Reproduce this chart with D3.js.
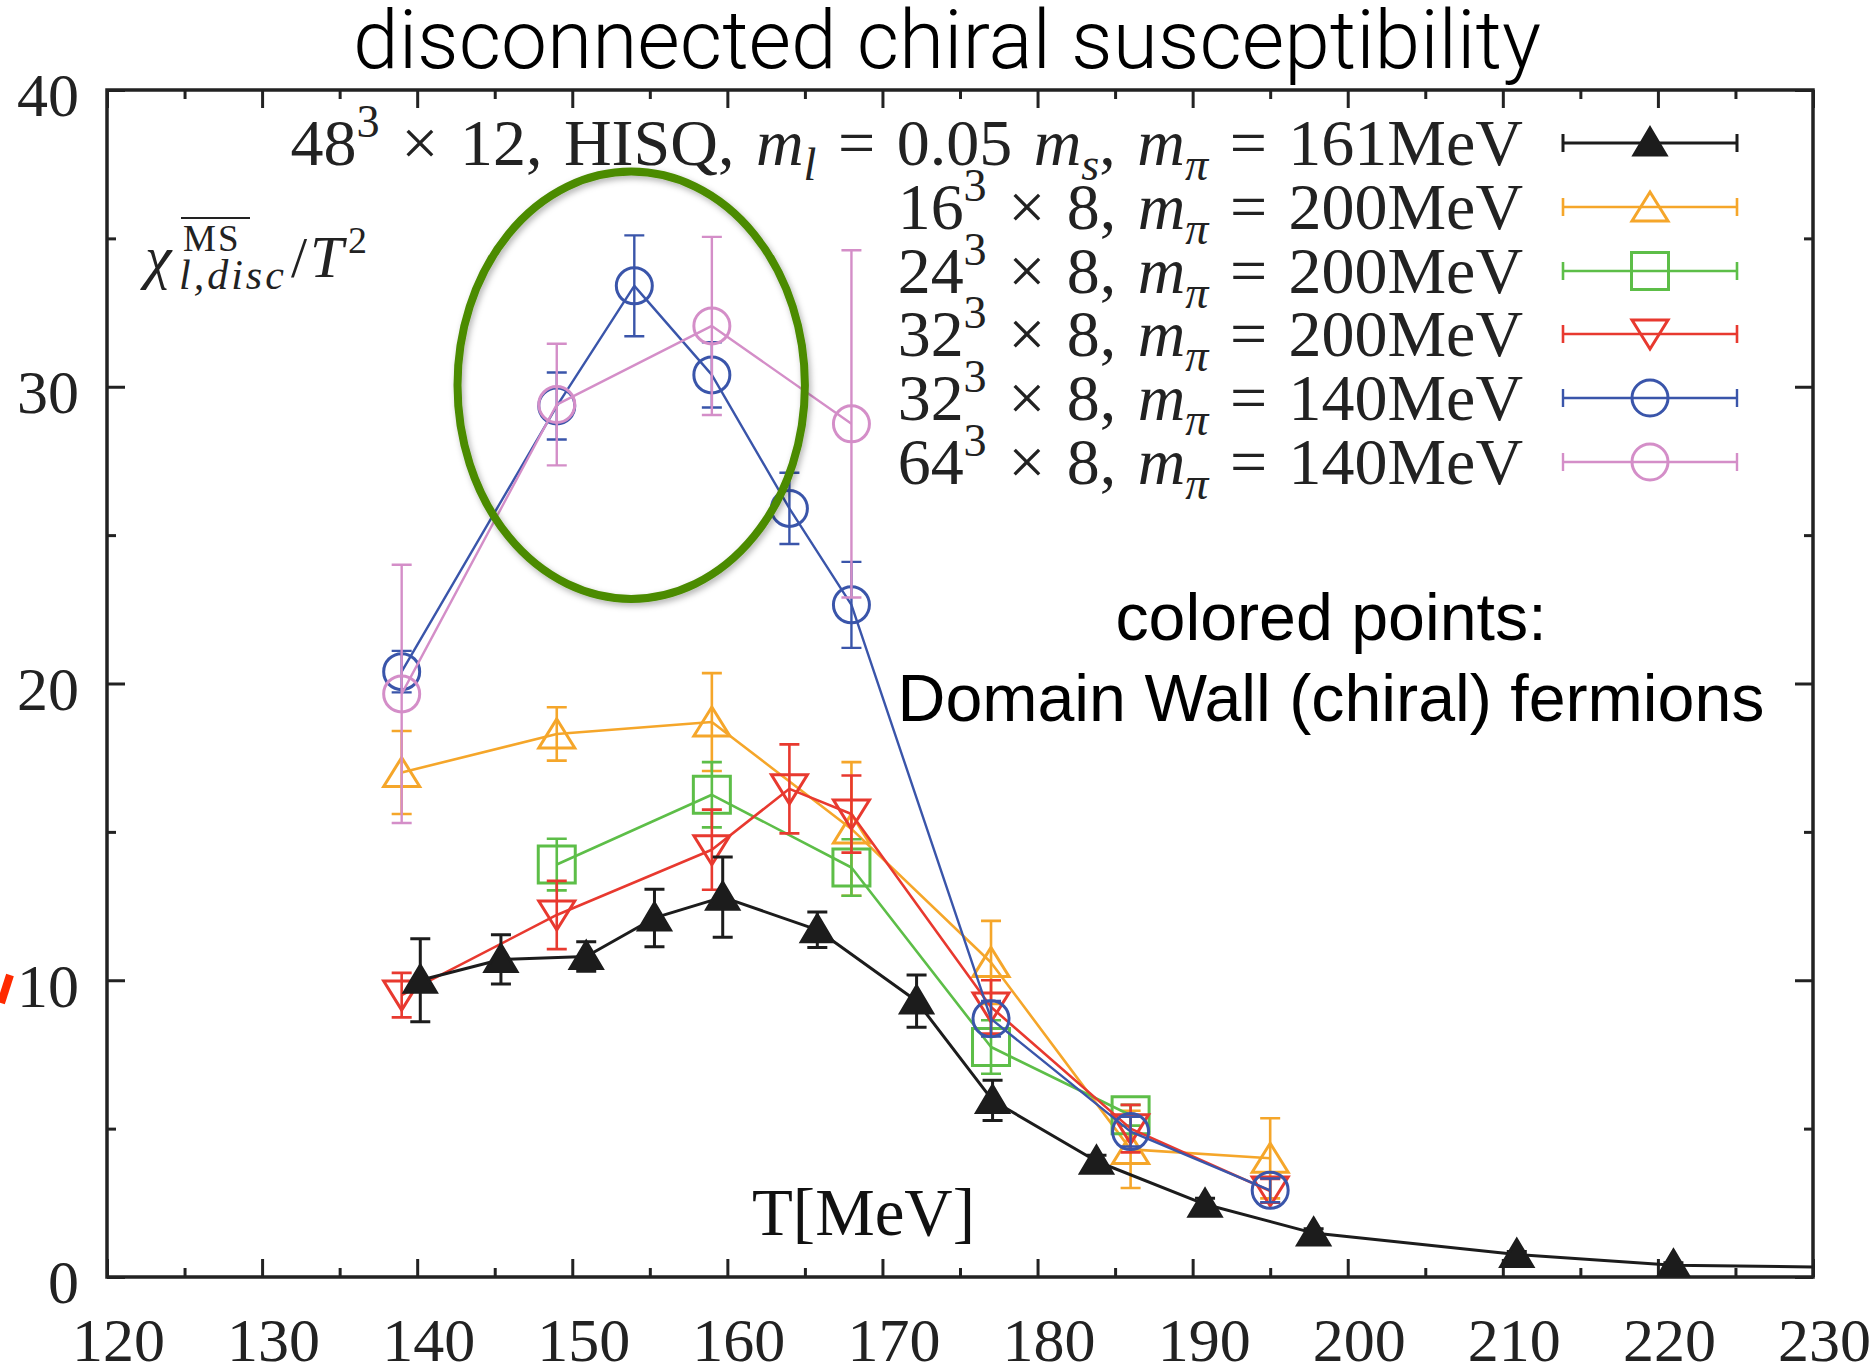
<!DOCTYPE html>
<html>
<head>
<meta charset="utf-8">
<script src="https://cdn.jsdelivr.net/npm/d3@7"></script>
<style>
  body { margin: 0; background: #fff; }
  svg { display: block; }
</style>
</head>
<body>
<svg id="plotarea"></svg>
<script>
// --- data ---
var xTicks = [120, 130, 140, 150, 160, 170, 180, 190, 200, 210, 220, 230];
var yTicks = [0, 10, 20, 30, 40];

// 48^3 x 12 HISQ (last point lies beyond 230 and is clipped)
var hisqT = [140.2, 145.4, 150.9, 155.3, 159.7, 165.8, 172.2, 177.1, 183.8, 190.8, 197.8, 210.9, 221.0, 235.0];
var hisqV = [10.0, 10.7, 10.8, 12.1, 12.8, 11.7, 9.3, 5.95, 3.9, 2.45, 1.48, 0.76, 0.4, 0.3];
var hisqE = [1.4, 0.83, 0.5, 0.97, 1.35, 0.6, 0.88, 0.68, 0.2, 0.2, 0.15, 0.1, 0.08, 0.05];

var dw16T = [139, 149, 159, 168, 177, 186, 195];
var dw16V = [17.0, 18.3, 18.7, 15.1, 10.6, 4.3, 4.0];
var dw16E = [1.4, 0.9, 1.65, 2.25, 1.4, 1.3, 1.35];

var dw24T = [149, 159, 168, 177, 186];
var dw24V = [13.9, 16.25, 13.8, 7.75, 5.45];
var dw24E = [0.87, 1.1, 0.95, 0.9, 0.35];

var dw32T = [139, 149, 159, 164, 168, 177, 186, 195];
var dw32V = [9.5, 12.2, 14.4, 16.45, 15.6, 9.1, 5.0, 2.9];
var dw32E = [0.75, 1.15, 1.35, 1.5, 1.3, 0.9, 0.8, 0.4];

var dw32lT = [139, 149, 154, 159, 164, 168, 177, 186, 195];
var dw32lV = [20.4, 29.35, 33.4, 30.4, 25.9, 22.65, 8.7, 4.9, 2.92];
var dw32lE = [0.7, 1.13, 1.7, 1.1, 1.2, 1.45, 0.6, 0.5, 0.4];

var dw64T = [139, 149, 159, 168];
var dw64V = [19.65, 29.4, 32.05, 28.75];
var dw64E = [4.35, 2.05, 3.0, 5.85];

// highlighted region (data units): centre T, centre value, half-width in T, half-height in value
var ringT = 153.8, ringV = 30.05, ringRT = 11.2, ringRV = 7.2;

function zip(T, V, E) {
    return T.map(function (t, i) { return {t: t, v: V[i], e: E[i]}; });
}

var series = [
    {pts: zip(dw16T, dw16V, dw16E), color: "#f5a62a", mark: "tri", lw: 2.6,
        label: [["16"], ["3", "sup"], [" × 8, "], ["m", "it"], ["π", "sub"], [" = 200MeV"]]},
    {pts: zip(dw24T, dw24V, dw24E), color: "#5dbe48", mark: "sq", lw: 2.6,
        label: [["24"], ["3", "sup"], [" × 8, "], ["m", "it"], ["π", "sub"], [" = 200MeV"]]},
    {pts: zip(dw32T, dw32V, dw32E), color: "#e8392f", mark: "tridown", lw: 2.6,
        label: [["32"], ["3", "sup"], [" × 8, "], ["m", "it"], ["π", "sub"], [" = 200MeV"]]},
    {pts: zip(dw32lT, dw32lV, dw32lE), color: "#3a55aa", mark: "circ", lw: 2.4,
        label: [["32"], ["3", "sup"], [" × 8, "], ["m", "it"], ["π", "sub"], [" = 140MeV"]]},
    {pts: zip(dw64T, dw64V, dw64E), color: "#d48ec8", mark: "circ", lw: 2.4,
        label: [["64"], ["3", "sup"], [" × 8, "], ["m", "it"], ["π", "sub"], [" = 140MeV"]]},
    {pts: zip(hisqT, hisqV, hisqE), color: "#1c1c1c", mark: "trifill", lw: 3,
        label: [["48"], ["3", "sup"], [" × 12, HISQ, "], ["m", "it"], ["l", "sub"], [" = 0.05 "], ["m", "it"], ["s", "sub"],
            [", "], ["m", "it"], ["π", "sub"], [" = 161MeV"]]}
];
// legend lists the HISQ set first
var legendOrder = [5, 0, 1, 2, 3, 4];

var W = 1873, H = 1368;
var margin = {top: 90, right: 60, bottom: 91, left: 107};
var width = W - margin.left - margin.right;
var height = H - margin.top - margin.bottom;
var serif = "'Liberation Serif', 'DejaVu Serif', serif";
var sans = "'Liberation Sans', Arial, sans-serif";

var svg = d3.select("#plotarea").attr("width", W).attr("height", H);
svg.append("rect").attr("width", W).attr("height", H).attr("fill", "#fff");

var defs = svg.append("defs");
defs.append("clipPath").attr("id", "clip")
    .append("rect").attr("width", width).attr("height", height);
var sh = defs.append("filter").attr("id", "shadow")
    .attr("x", "-10%").attr("y", "-10%").attr("width", "120%").attr("height", "120%");
sh.append("feDropShadow").attr("dx", 2).attr("dy", 3).attr("stdDeviation", 3)
    .attr("flood-color", "#000").attr("flood-opacity", 0.3);

var x = d3.scaleLinear().domain([120, 230]).range([0, width]);
var y = d3.scaleLinear().domain([0, 40]).range([height, 0]);

// title
var title = svg.append("text")
    .attr("x", 947).attr("y", 68)
    .attr("text-anchor", "middle")
    .style("font-family", "Roboto, " + sans)
    .style("font-weight", 300)
    .style("font-size", "80px")
    .attr("fill", "#000")
    .text("disconnected chiral susceptibility");
fitWidth(title, 1188, 80);

var g = svg.append("g")
    .attr("transform", "translate(" + margin.left + "," + margin.top + ")");

// axes: ticks point inward on all four sides
function styleTicks(ax) {
    ax.select(".domain").remove();
    ax.selectAll("line").attr("stroke", "#222").attr("stroke-width", 3);
}
var bottom = g.append("g").attr("transform", "translate(0," + height + ")")
    .call(d3.axisBottom(x).tickValues(xTicks).tickSize(-18).tickSizeOuter(0).tickFormat(d3.format("d")))
    .call(styleTicks);
bottom.selectAll("text")
    .attr("y", 84).attr("dy", 0).attr("dx", 11)
    .style("font-family", serif).style("font-size", "62px").attr("fill", "#222");
g.append("g").attr("transform", "translate(0," + height + ")")
    .call(d3.axisBottom(x).tickValues(d3.range(125, 230, 10)).tickSize(-9).tickFormat(""))
    .call(styleTicks);
g.append("g")
    .call(d3.axisTop(x).tickValues(xTicks).tickSize(-18).tickFormat(""))
    .call(styleTicks);
g.append("g")
    .call(d3.axisTop(x).tickValues(d3.range(125, 230, 10)).tickSize(-9).tickFormat(""))
    .call(styleTicks);

var left = g.append("g")
    .call(d3.axisLeft(y).tickValues(yTicks).tickSize(-18).tickPadding(28).tickFormat(d3.format("d")))
    .call(styleTicks);
left.selectAll("text")
    .attr("y", 6)
    .style("font-family", serif).style("font-size", "62px").attr("fill", "#222");
g.append("g")
    .call(d3.axisLeft(y).tickValues([5, 15, 25, 35]).tickSize(-9).tickFormat(""))
    .call(styleTicks);
g.append("g").attr("transform", "translate(" + width + ",0)")
    .call(d3.axisRight(y).tickValues(yTicks).tickSize(-18).tickFormat(""))
    .call(styleTicks);
g.append("g").attr("transform", "translate(" + width + ",0)")
    .call(d3.axisRight(y).tickValues([5, 15, 25, 35]).tickSize(-9).tickFormat(""))
    .call(styleTicks);

// frame
g.append("rect")
    .attr("width", width).attr("height", height)
    .attr("fill", "none").attr("stroke", "#222").attr("stroke-width", 3.5);

// marker shapes
function markPath(kind) {
    if (kind == "trifill") return "M0,-15L16,12L-16,12Z";
    if (kind == "tri") return "M0,-15L18,14L-18,14Z";
    if (kind == "tridown") return "M0,15L18,-14L-18,-14Z";
    if (kind == "sq") return "M-18.5,-18.5H18.5V18.5H-18.5Z";
    return null;
}
function drawMark(sel, kind, color) {
    if (kind == "circ") {
        sel.append("circle").attr("r", 18)
            .attr("fill", "none").attr("stroke", color).attr("stroke-width", 3);
    } else {
        sel.append("path").attr("d", markPath(kind))
            .attr("fill", kind == "trifill" ? color : "none")
            .attr("stroke", color).attr("stroke-width", 3)
            .attr("stroke-linejoin", "miter");
    }
}

var line = d3.line()
    .x(function (d) { return x(d.t); })
    .y(function (d) { return y(d.v); });

var plot = g.append("g").attr("clip-path", "url(#clip)");

series.forEach(function (s) {
    var sg = plot.append("g");
    sg.append("path")
        .datum(s.pts)
        .attr("d", line)
        .attr("fill", "none")
        .attr("stroke", s.color)
        .attr("stroke-width", s.lw)
        .attr("stroke-linejoin", "round");

    // error bars
    sg.selectAll(".err")
        .data(s.pts)
        .enter()
        .append("path")
        .attr("class", "err")
        .attr("d", function (d) {
            var x0 = x(d.t), y1 = y(d.v + d.e), y2 = y(d.v - d.e);
            return "M" + (x0 - 10) + "," + y1 + "H" + (x0 + 10)
                + "M" + x0 + "," + y1 + "V" + y2
                + "M" + (x0 - 10) + "," + y2 + "H" + (x0 + 10);
        })
        .attr("fill", "none")
        .attr("stroke", s.color)
        .attr("stroke-width", s.lw);

    sg.selectAll(".pt")
        .data(s.pts)
        .enter()
        .append("g")
        .attr("class", "pt")
        .attr("transform", function (d) {
            return "translate(" + x(d.t) + "," + y(d.v) + ")";
        })
        .each(function () { drawMark(d3.select(this), s.mark, s.color); });
});

// green ring around the peak
g.append("ellipse")
    .attr("cx", x(ringT)).attr("cy", y(ringV))
    .attr("rx", x(ringT + ringRT) - x(ringT))
    .attr("ry", y(ringV - ringRV) - y(ringV))
    .attr("fill", "none")
    .attr("stroke", "#4b8b06")
    .attr("stroke-width", 8)
    .attr("filter", "url(#shadow)");

// rich text helper: parts = [text, "sup"|"sub"|"it"]
function rich(sel, parts, size) {
    var shift = 0;
    parts.forEach(function (p) {
        var ts = sel.append("tspan").text(p[0]);
        var target = 0;
        if (p[1] == "sup") { target = -0.42 * size; ts.style("font-size", (0.7 * size) + "px"); }
        if (p[1] == "sub") {
            target = 0.22 * size; ts.style("font-size", (0.7 * size) + "px").style("font-style", "italic");
        }
        if (p[1] == "it") ts.style("font-style", "italic");
        if (target != shift) ts.attr("dy", target - shift);
        shift = target;
    });
}

// legend: each label is sized so its width matches the picture
var rowY = [143, 207, 271, 334, 398, 462];
legendOrder.forEach(function (si, r) {
    var s = series[si];
    var ly = rowY[r];
    var target = (r == 0) ? 1236 : 627;
    var t = svg.append("text")
        .attr("x", 1523).attr("y", ly + 22)
        .attr("text-anchor", "end")
        .style("font-family", serif)
        .style("word-spacing", "5px")
        .attr("fill", "#222");
    t.style("font-size", "62px");
    rich(t, s.label, 62);
    var w = t.node().getComputedTextLength();
    var size = 62 * target / w;
    t.selectAll("tspan").remove();
    t.style("font-size", size + "px");
    rich(t, s.label, size);

    var lg = svg.append("g").attr("transform", "translate(0," + ly + ")");
    lg.append("path")
        .attr("d", "M1563,0H1737M1563,-9V9M1737,-9V9")
        .attr("fill", "none").attr("stroke", s.color).attr("stroke-width", s.lw);
    drawMark(lg.append("g").attr("transform", "translate(1650,0)"), s.mark, s.color);
});

// y label  chi^{MSbar}_{l,disc} / T^2
var yl = svg.append("g").attr("transform", "translate(145,277)")
    .style("font-family", serif).attr("fill", "#222");
yl.append("text").style("font-size", "60px").style("font-style", "italic").text("χ");
yl.append("text").attr("x", 34).attr("y", 12).style("font-size", "42px")
    .style("font-style", "italic").style("letter-spacing", "3px").text("l,disc");
yl.append("text").attr("x", 38).attr("y", -26).style("font-size", "37px")
    .style("letter-spacing", "2px").text("MS");
yl.append("line").attr("x1", 36).attr("x2", 105).attr("y1", -59).attr("y2", -59)
    .attr("stroke", "#222").attr("stroke-width", 2);
yl.append("text").attr("x", 146).style("font-size", "58px").text("/");
yl.append("text").attr("x", 165).style("font-size", "60px").style("font-style", "italic").text("T");
yl.append("text").attr("x", 203).attr("y", -24).style("font-size", "38px").text("2");

// x label
var xl = svg.append("text")
    .attr("x", 752).attr("y", 1235)
    .style("font-family", serif).style("font-size", "68px").attr("fill", "#111")
    .text("T[MeV]");
fitWidth(xl, 223, 68);

// annotation
var a1 = svg.append("text").attr("x", 1331).attr("y", 640).attr("text-anchor", "middle")
    .style("font-family", sans).style("font-size", "66px").attr("fill", "#000")
    .text("colored points:");
var a2 = svg.append("text").attr("x", 1331).attr("y", 721).attr("text-anchor", "middle")
    .style("font-family", sans).style("font-size", "66px").attr("fill", "#000")
    .text("Domain Wall (chiral) fermions");
fitWidth(a2, 867, 66);
a1.style("font-size", a2.style("font-size"));

// red mark cut at the left edge
svg.append("line")
    .attr("x1", 1).attr("y1", 1003).attr("x2", 10).attr("y2", 975)
    .attr("stroke", "#ff2a00").attr("stroke-width", 8);

function fitWidth(sel, target, size) {
    var w = sel.node().getComputedTextLength();
    if (w > 0) sel.style("font-size", (size * target / w) + "px");
}
</script>
</body>
</html>
